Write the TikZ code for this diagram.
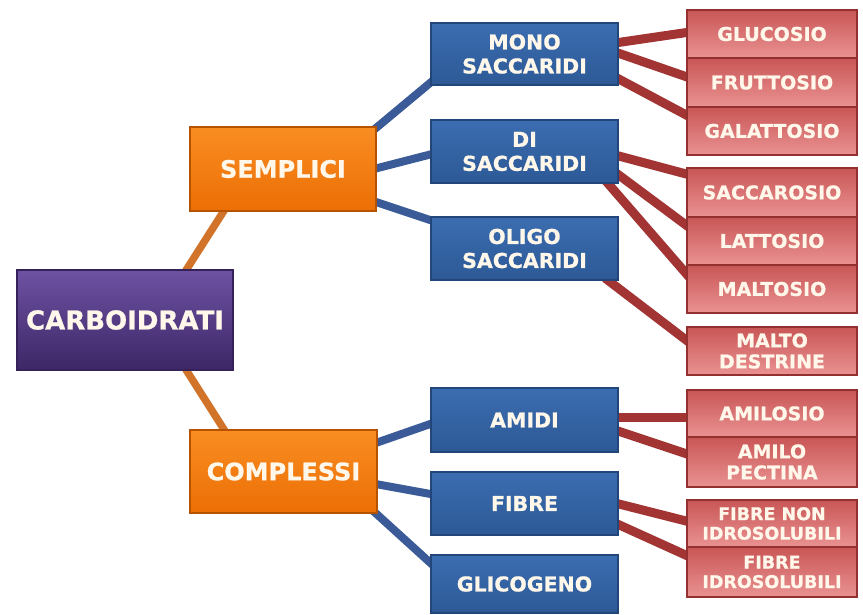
\documentclass[tikz,border=0pt]{standalone}
\usepackage{fontspec}
\setmainfont{DejaVu Sans}[BoldFeatures={FakeBold=0.8}]
\usetikzlibrary{backgrounds}
\definecolor{purpT}{HTML}{6E52A3}
\definecolor{purpB}{HTML}{3D2766}
\definecolor{purpD}{HTML}{35225A}
\definecolor{oranT}{HTML}{F98D22}
\definecolor{oranB}{HTML}{EC6F05}
\definecolor{oranD}{HTML}{B55300}
\definecolor{bluT}{HTML}{3B6DB0}
\definecolor{bluB}{HTML}{2D5996}
\definecolor{bluD}{HTML}{23467A}
\definecolor{redT}{HTML}{C95656}
\definecolor{redB}{HTML}{EA9292}
\definecolor{redD}{HTML}{933030}
\definecolor{txt}{HTML}{FFF7EA}
\definecolor{lineO}{HTML}{D2732A}
\definecolor{lineB}{HTML}{3A5B98}
\definecolor{lineR}{HTML}{A33434}
\tikzset{
  box/.style={anchor=north west, inner sep=0pt, outer sep=0pt, align=center,
    text=txt, line width=1.5pt, font=\bfseries},
  rootbox/.style={box, top color=purpT, bottom color=purpB, draw=purpD,
    font=\fontsize{26}{28}\selectfont\bfseries},
  catbox/.style={box, top color=oranT, bottom color=oranB, draw=oranD,
    font=\fontsize{24}{26}\selectfont\bfseries},
  subbox/.style={box, top color=bluT, bottom color=bluB, draw=bluD,
    minimum width=187pt, font=\fontsize{20.5}{24}\selectfont\bfseries},
  leafbox/.style={box, top color=redT, bottom color=redB, draw=redD,
    minimum width=170pt, font=\fontsize{19}{21}\selectfont\bfseries},
  smallleaf/.style={leafbox, font=\fontsize{17.5}{19.5}\selectfont\bfseries},
  oline/.style={draw=lineO, line width=7.5pt},
  bline/.style={draw=lineB, line width=8pt},
  rline/.style={draw=lineR, line width=9pt},
}
\begin{document}
\begin{tikzpicture}[x=1pt,y=-1pt]
\useasboundingbox (0,0) rectangle (863,615);
% main nodes
\node[rootbox, minimum width=216pt, minimum height=100pt] (carb) at (17,270) {CARBOIDRATI};
\node[catbox, minimum width=186pt, minimum height=84pt] (semp) at (190,127) {SEMPLICI};
\node[catbox, minimum width=187pt, minimum height=83pt] (comp) at (190,430) {COMPLESSI};
% blue
\node[subbox, minimum height=62pt] (mono) at (431,23) {MONO\\SACCARIDI};
\node[subbox, minimum height=63pt] (di) at (431,120) {DI\\SACCARIDI};
\node[subbox, minimum height=63pt] (oligo) at (431,217) {OLIGO\\SACCARIDI};
\node[subbox, minimum height=64pt] (amidi) at (431,388) {AMIDI};
\node[subbox, minimum height=63pt] (fibre) at (431,472) {FIBRE};
\node[subbox, minimum height=58pt] (glic) at (431,555) {GLICOGENO};
% red
\node[leafbox, minimum height=48pt] (gluc) at (687,10) {GLUCOSIO};
\node[leafbox, minimum height=49pt] (frut) at (687,58) {FRUTTOSIO};
\node[leafbox, minimum height=48pt] (gala) at (687,107) {GALATTOSIO};
\node[leafbox, minimum height=49pt] (sacc) at (687,168) {SACCAROSIO};
\node[leafbox, minimum height=48pt] (latt) at (687,217) {LATTOSIO};
\node[leafbox, minimum height=48pt] (malt) at (687,265) {MALTOSIO};
\node[leafbox, minimum height=48pt] (maltod) at (687,327) {MALTO\\DESTRINE};
\node[leafbox, minimum height=47pt] (amilo) at (687,390) {AMILOSIO};
\node[leafbox, minimum height=50pt] (amilop) at (687,437) {AMILO\\PECTINA};
\node[smallleaf, minimum height=47pt] (fnon) at (687,500) {FIBRE NON\\IDROSOLUBILI};
\node[smallleaf, minimum height=50pt] (fidro) at (687,547) {FIBRE\\IDROSOLUBILI};
% connectors
\begin{scope}[on background layer]
\fill[white] (0,0) rectangle (863,615);
\draw[oline] ([shift={(58,5)}]carb.north) -- ([shift={(-56,-5)}]semp.south);
\draw[oline] ([shift={(58,-5)}]carb.south) -- ([shift={(-56,5)}]comp.north);
\draw[bline] ([shift={(-6,-36)}]semp.east) -- ([shift={(5,24)}]mono.west);
\draw[bline] ([shift={(-6,1)}]semp.east) -- ([shift={(5,1.5)}]di.west);
\draw[bline] ([shift={(-6,31)}]semp.east) -- ([shift={(5,-26.5)}]oligo.west);
\draw[bline] ([shift={(-7,-26.5)}]comp.east) -- ([shift={(5,2)}]amidi.west);
\draw[bline] ([shift={(-7,11.5)}]comp.east) -- ([shift={(5,-8.5)}]fibre.west);
\draw[bline] ([shift={(-7,36.5)}]comp.east) -- ([shift={(5,-16)}]glic.west);
\draw[rline] ([shift={(-3,-11)}]mono.east) -- ([shift={(3,-2)}]gluc.west);
\draw[rline] ([shift={(-3,-2)}]mono.east) -- ([shift={(3,-4.5)}]frut.west);
\draw[rline] ([shift={(-3,23)}]mono.east) -- ([shift={(3,-14)}]gala.west);
\draw[rline] ([shift={(-3,3.5)}]di.east) -- ([shift={(3,-17.5)}]sacc.west);
\draw[rline] ([shift={(-6,18.5)}]di.east) -- ([shift={(3,-13)}]latt.west);
\draw[rline] ([shift={(-13,28.5)}]di.east) -- ([shift={(3,-11)}]malt.west);
\draw[rline] ([shift={(-13,29.5)}]oligo.east) -- ([shift={(3,-8)}]maltod.west);
\draw[rline] ([shift={(-3,-3)}]amidi.east) -- ([shift={(3,3.5)}]amilo.west);
\draw[rline] ([shift={(-3,10)}]amidi.east) -- ([shift={(3,-7)}]amilop.west);
\draw[rline] ([shift={(-3,-0.5)}]fibre.east) -- ([shift={(3,-1.5)}]fnon.west);
\draw[rline] ([shift={(-3,19.5)}]fibre.east) -- ([shift={(3,-15)}]fidro.west);
\end{scope}
\end{tikzpicture}
\end{document}
